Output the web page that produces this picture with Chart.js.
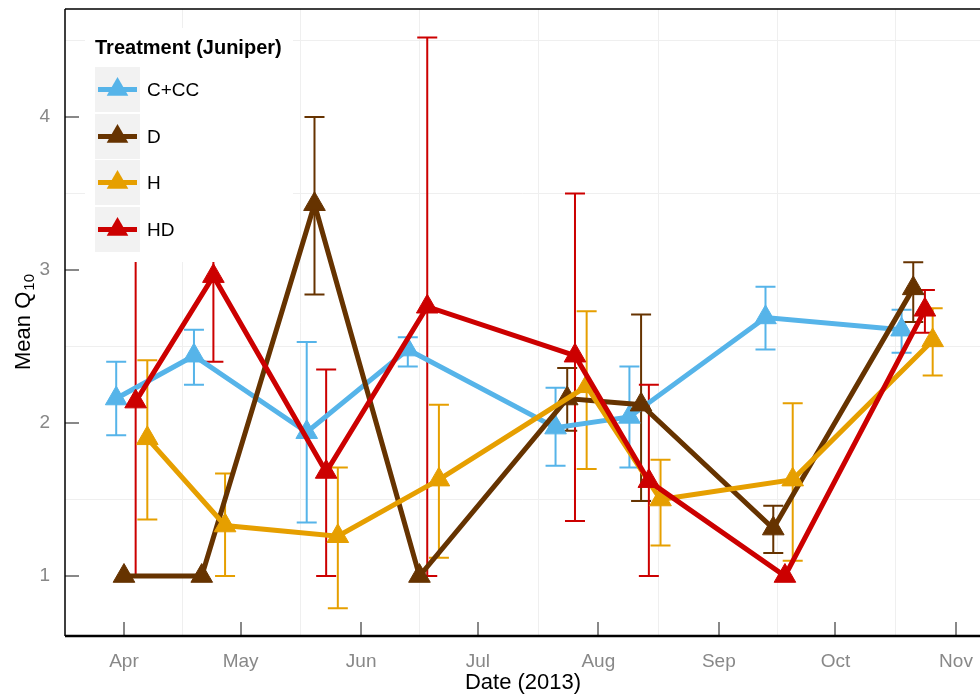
<!DOCTYPE html>
<html>
<head>
<meta charset="utf-8">
<script src="https://cdn.jsdelivr.net/npm/chart.js@4.4.1/dist/chart.umd.min.js"></script>
<style>
  body { margin: 0; background: #fff; }
  canvas { display: block; }
</style>
</head>
<body>
<canvas id="chart" width="980" height="698"></canvas>
<script>
// sampling dates and mean Q10 (+ error bar ends) per treatment
const ccDates = ['2013-03-30', '2013-04-19', '2013-05-18', '2013-06-13', '2013-07-21', '2013-08-09', '2013-09-13', '2013-10-18'];
const ccMean = [2.16, 2.44, 1.94, 2.48, 1.97, 2.04, 2.69, 2.61];
const ccLow = [1.92, 2.25, 1.35, 2.37, 1.72, 1.71, 2.48, 2.46];
const ccHigh = [2.40, 2.61, 2.53, 2.56, 2.23, 2.37, 2.89, 2.74];

const dDates = ['2013-04-01', '2013-04-21', '2013-05-20', '2013-06-16', '2013-07-24', '2013-08-12', '2013-09-15', '2013-10-21'];
const dMean = [1.0, 1.0, 3.43, 1.0, 2.16, 2.12, 1.31, 2.88];
const dLow = [null, null, 2.84, null, 1.95, 1.49, 1.15, 2.66];
const dHigh = [null, null, 4.00, null, 2.36, 2.71, 1.46, 3.05];

const hDates = ['2013-04-07', '2013-04-27', '2013-05-26', '2013-06-21', '2013-07-29', '2013-08-17', '2013-09-20', '2013-10-26'];
const hMean = [1.90, 1.33, 1.26, 1.63, 2.24, 1.50, 1.63, 2.54];
const hLow = [1.37, 1.00, 0.79, 1.12, 1.70, 1.20, 1.10, 2.31];
const hHigh = [2.41, 1.67, 1.71, 2.12, 2.73, 1.76, 2.13, 2.75];

const hdDates = ['2013-04-04', '2013-04-24', '2013-05-23', '2013-06-18', '2013-07-26', '2013-08-14', '2013-09-18', '2013-10-24'];
const hdMean = [2.14, 2.96, 1.68, 2.76, 2.44, 1.62, 1.00, 2.74];
const hdLow = [1.00, 2.40, 1.00, 1.00, 1.36, 1.00, null, 2.59];
const hdHigh = [3.28, 3.52, 2.35, 4.52, 3.50, 2.25, null, 2.87];

const monthStarts = ['2013-04-01', '2013-05-01', '2013-06-01', '2013-07-01', '2013-08-01', '2013-09-01', '2013-10-01', '2013-11-01'];
const monthLabels = ['Apr', 'May', 'Jun', 'Jul', 'Aug', 'Sep', 'Oct', 'Nov'];
const yTicks = [1, 2, 3, 4];

const FONT = "'Liberation Sans', Arial, sans-serif";
const GRID = '#EFEFEF';
const TICK_GREY = '#888888';

// days since 1 April 2013
const APR1 = Date.UTC(2013, 3, 1);
function dayOf(s) {
    const p = s.split('-').map(Number);
    return (Date.UTC(p[0], p[1] - 1, p[2]) - APR1) / 86400000;
}
function points(dates, vals) {
    return dates.map((d, i) => ({ x: dayOf(d), y: vals[i] }));
}

const monthDays = monthStarts.map(dayOf);
const midDays = [];
for (let i = 0; i < monthDays.length - 1; i++) midDays.push((monthDays[i] + monthDays[i + 1]) / 2);

function series(label, color, dates, mean, low, high, order) {
    return {
        label: label,
        data: points(dates, mean),
        errLow: low,
        errHigh: high,
        borderColor: color,
        backgroundColor: color,
        borderWidth: 5,
        pointStyle: 'triangle',
        pointRadius: 12.5,
        pointHoverRadius: 12.5,
        pointBorderWidth: 1,
        pointBorderColor: color,
        pointBackgroundColor: color,
        tension: 0,
        order: order
    };
}

const datasets = [
    series('C+CC', '#56B4E9', ccDates, ccMean, ccLow, ccHigh, 4),
    series('D', '#663300', dDates, dMean, dLow, dHigh, 3),
    series('H', '#E69F00', hDates, hMean, hLow, hHigh, 2),
    series('HD', '#CC0000', hdDates, hdMean, hdLow, hdHigh, 1)
];

const decorations = {
    id: 'decorations',
    beforeDatasetsDraw(chart) {
        const ctx = chart.ctx;
        const a = chart.chartArea;
        const xs = chart.scales.x, ys = chart.scales.y;
        ctx.save();
        // inward tick marks
        ctx.strokeStyle = TICK_GREY;
        ctx.lineWidth = 2;
        yTicks.forEach(v => {
            const y = Math.round(ys.getPixelForValue(v));
            ctx.beginPath();
            ctx.moveTo(a.left, y);
            ctx.lineTo(a.left + 14, y);
            ctx.stroke();
        });
        monthDays.forEach(v => {
            const x = Math.round(xs.getPixelForValue(v));
            ctx.beginPath();
            ctx.moveTo(x, a.bottom);
            ctx.lineTo(x, a.bottom - 14);
            ctx.stroke();
        });
        // panel border
        ctx.strokeStyle = '#000';
        ctx.lineWidth = 1.5;
        ctx.beginPath();
        ctx.moveTo(a.left, a.top);
        ctx.lineTo(a.right, a.top);
        ctx.moveTo(a.left, a.top);
        ctx.lineTo(a.left, a.bottom);
        ctx.stroke();
        ctx.lineWidth = 2.5;
        ctx.beginPath();
        ctx.moveTo(a.left, a.bottom);
        ctx.lineTo(a.right, a.bottom);
        ctx.stroke();

        // error bars under the lines
        ctx.lineWidth = 2;
        chart.data.datasets.forEach((ds, di) => {
            const meta = chart.getDatasetMeta(di);
            ctx.strokeStyle = ds.borderColor;
            meta.data.forEach((pt, i) => {
                if (ds.errLow[i] == null) return;
                const x = pt.x;
                const y1 = ys.getPixelForValue(ds.errLow[i]);
                const y2 = ys.getPixelForValue(ds.errHigh[i]);
                ctx.beginPath();
                ctx.moveTo(x, y1);
                ctx.lineTo(x, y2);
                ctx.moveTo(x - 10, y1);
                ctx.lineTo(x + 10, y1);
                ctx.moveTo(x - 10, y2);
                ctx.lineTo(x + 10, y2);
                ctx.stroke();
            });
        });
        ctx.restore();
    },
    afterDraw(chart) {
        const ctx = chart.ctx;
        const a = chart.chartArea;
        ctx.save();

        // axis titles
        ctx.fillStyle = '#000';
        ctx.textBaseline = 'middle';
        ctx.textAlign = 'center';
        ctx.font = '22px ' + FONT;
        ctx.fillText('Date (2013)', 523, 683);

        ctx.save();
        ctx.translate(22, (a.top + a.bottom) / 2);
        ctx.rotate(-Math.PI / 2);
        ctx.font = '22px ' + FONT;
        const mainW = ctx.measureText('Mean Q').width;
        ctx.font = '15px ' + FONT;
        const subW = ctx.measureText('10').width;
        const start = -(mainW + subW) / 2;
        ctx.textAlign = 'left';
        ctx.textBaseline = 'alphabetic';
        ctx.font = '22px ' + FONT;
        ctx.fillText('Mean Q', start, 8);
        ctx.font = '15px ' + FONT;
        ctx.fillText('10', start + mainW + 1, 12);
        ctx.restore();

        // legend
        ctx.fillStyle = '#fff';
        ctx.fillRect(85, 28, 208, 234);
        ctx.fillStyle = '#000';
        ctx.textAlign = 'left';
        ctx.textBaseline = 'alphabetic';
        ctx.font = 'bold 20px ' + FONT;
        ctx.fillText('Treatment (Juniper)', 95, 54);
        const boxTops = [67, 114, 160, 207];
        chart.data.datasets.forEach((ds, i) => {
            const top = boxTops[i];
            const cy = top + 22.5;
            ctx.fillStyle = '#F2F2F2';
            ctx.fillRect(95, top, 45, 45);
            ctx.strokeStyle = ds.borderColor;
            ctx.lineWidth = 5;
            ctx.beginPath();
            ctx.moveTo(98, cy);
            ctx.lineTo(137, cy);
            ctx.stroke();
            ctx.fillStyle = ds.borderColor;
            const r = 12.5, cx = 117.5;
            ctx.beginPath();
            ctx.moveTo(cx, cy - r);
            ctx.lineTo(cx + r * Math.sin(Math.PI * 2 / 3), cy + r / 2);
            ctx.lineTo(cx - r * Math.sin(Math.PI * 2 / 3), cy + r / 2);
            ctx.closePath();
            ctx.fill();
            ctx.fillStyle = '#000';
            ctx.font = '19px ' + FONT;
            ctx.textBaseline = 'middle';
            ctx.fillText(ds.label, 147, cy + 1);
        });
        ctx.restore();
    }
};

new Chart(document.getElementById('chart'), {
    type: 'line',
    data: { datasets: datasets },
    options: {
        responsive: false,
        animation: false,
        events: [],
        layout: { padding: { top: 9, left: 0, right: 0, bottom: 0 }, autoPadding: false },
        plugins: {
            legend: { display: false },
            tooltip: { enabled: false }
        },
        scales: {
            x: {
                type: 'linear',
                min: -15.17,
                max: 220.17,
                afterBuildTicks: scale => {
                    scale.ticks = monthDays.concat(midDays).sort((p, q) => p - q).map(v => ({ value: v }));
                },
                afterFit: scale => {
                    scale.height = 62;
                    scale.paddingLeft = 0;
                    scale.paddingRight = 0;
                    scale.paddingTop = 0;
                    scale.paddingBottom = 0;
                },
                border: { display: false },
                grid: {
                    drawTicks: false,
                    color: c => (midDays.includes(c.tick.value) ? GRID : 'rgba(0,0,0,0)'),
                    lineWidth: 1
                },
                ticks: {
                    autoSkip: false,
                    maxRotation: 0,
                    padding: 14,
                    color: TICK_GREY,
                    font: { family: FONT, size: 19 },
                    callback: v => {
                        const i = monthDays.indexOf(v);
                        return i >= 0 ? monthLabels[i] : '';
                    }
                }
            },
            y: {
                min: 0.608,
                max: 4.706,
                afterBuildTicks: scale => {
                    scale.ticks = [1, 1.5, 2, 2.5, 3, 3.5, 4, 4.5].map(v => ({ value: v }));
                },
                afterFit: scale => {
                    scale.width = 65;
                    scale.paddingLeft = 0;
                    scale.paddingRight = 0;
                    scale.paddingTop = 0;
                    scale.paddingBottom = 0;
                },
                border: { display: false },
                grid: {
                    drawTicks: false,
                    color: c => (yTicks.includes(c.tick.value) ? 'rgba(0,0,0,0)' : GRID),
                    lineWidth: 1
                },
                ticks: {
                    padding: 15,
                    color: TICK_GREY,
                    font: { family: FONT, size: 19 },
                    callback: v => (yTicks.includes(v) ? String(v) : '')
                }
            }
        }
    },
    plugins: [decorations]
});
</script>
</body>
</html>
